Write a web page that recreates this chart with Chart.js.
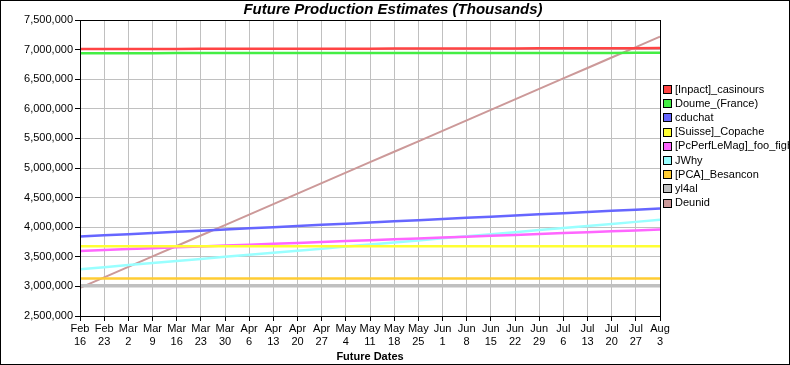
<!DOCTYPE html>
<html>
<head>
<meta charset="utf-8">
<script src="https://cdn.jsdelivr.net/npm/chart.js@4/dist/chart.umd.min.js"></script>
<style>
html,body{margin:0;padding:0;background:#fff;}
canvas{display:block;}
</style>
</head>
<body>
<canvas id="c" width="790" height="365"></canvas>
<script>
const titleText = "Future Production Estimates (Thousands)";
const xTitle = "Future Dates";
const categories = [
  ["Feb","16"],["Feb","23"],["Mar","2"],["Mar","9"],["Mar","16"],["Mar","23"],["Mar","30"],
  ["Apr","6"],["Apr","13"],["Apr","20"],["Apr","27"],["May","4"],["May","11"],["May","18"],
  ["May","25"],["Jun","1"],["Jun","8"],["Jun","15"],["Jun","22"],["Jun","29"],["Jul","6"],
  ["Jul","13"],["Jul","20"],["Jul","27"],["Aug","3"]
];
const seriesNames = ["[Inpact]_casinours","Doume_(France)","cduchat","[Suisse]_Copache","[PcPerfLeMag]_foo_fighters","JWhy","[PCA]_Besancon","yl4al","Deunid"];
const inpact = [7010000,7011000,7011000,7012000,7012000,7013000,7013000,7014000,7014000,7015000,7015000,7016000,7016000,7017000,7018000,7018000,7019000,7020000,7020000,7021000,7022000,7022000,7023000,7024000,7025000];
const doume = [6940000,6940000,6940000,6940000,6941000,6941000,6941000,6941000,6941000,6942000,6942000,6942000,6942000,6942000,6943000,6943000,6943000,6943000,6943000,6944000,6944000,6944000,6944000,6945000,6945000];
const cduchat = [3843000,3863000,3882000,3902000,3922000,3941000,3961000,3981000,4001000,4020000,4040000,4060000,4080000,4099000,4119000,4139000,4158000,4178000,4198000,4217000,4237000,4257000,4276000,4296000,4316000];
const copache = [3680000,3680000,3680000,3680000,3680000,3680000,3680000,3680000,3680000,3680000,3680000,3680000,3680000,3680000,3680000,3680000,3680000,3680000,3680000,3680000,3680000,3680000,3680000,3680000,3680000];
const pcperf = [3600000,3615000,3630000,3645000,3660000,3675000,3690000,3705000,3720000,3735000,3750000,3765000,3780000,3795000,3810000,3825000,3840000,3855000,3870000,3885000,3900000,3915000,3930000,3945000,3960000];
const jwhy = [3290000,3325000,3360000,3394000,3429000,3464000,3499000,3534000,3568000,3603000,3638000,3673000,3708000,3742000,3777000,3812000,3847000,3881000,3916000,3951000,3986000,4021000,4055000,4090000,4125000];
const besancon = [3135000,3135000,3135000,3135000,3135000,3135000,3135000,3135000,3135000,3135000,3135000,3135000,3135000,3135000,3135000,3135000,3135000,3135000,3135000,3135000,3135000,3135000,3135000,3135000,3135000];
const yl4al = [3012000,3012000,3012000,3012000,3012000,3012000,3012000,3012000,3012000,3012000,3012000,3012000,3012000,3012000,3012000,3012000,3012000,3012000,3012000,3012000,3012000,3012000,3012000,3012000,3012000];
const deunid = [2975000,3152000,3329000,3506000,3683000,3860000,4036000,4213000,4390000,4567000,4744000,4921000,5098000,5274000,5451000,5628000,5805000,5982000,6159000,6336000,6513000,6689000,6866000,7043000,7220000];
const yMin = 2500000, yMax = 7500000, yStep = 500000;

const seriesData = [inpact,doume,cduchat,copache,pcperf,jwhy,besancon,yl4al,deunid];
const colors = ["#ff4444","#44ee44","#6666ff","#ffff33","#ff66ff","#99ffff","#ffcc33","#c0c0c0","#cc9999"];
const widths = [2.5,2.5,2.5,2.5,2.5,2.5,2.5,3.5,2];

const FONT = "'Liberation Sans', Arial, sans-serif";

const extras = {
  id: 'extras',
  beforeDraw(chart) {
    const ctx = chart.ctx;
    ctx.save();
    ctx.fillStyle = '#fff';
    ctx.fillRect(0,0,chart.width,chart.height);
    ctx.restore();
  },
  afterDraw(chart) {
    const ctx = chart.ctx;
    const a = chart.chartArea;
    ctx.save();
    ctx.strokeStyle = '#000';
    ctx.lineWidth = 1;
    ctx.strokeRect(Math.round(a.left)+0.5, Math.round(a.top)+0.5, Math.round(a.right-a.left), Math.round(a.bottom-a.top));
    ctx.fillStyle = '#000';
    ctx.textAlign = 'center';
    ctx.textBaseline = 'middle';
    ctx.font = "italic bold 15px " + FONT;
    ctx.fillText(titleText, chart.width/2 - 2, 10);
    ctx.font = "bold 11px " + FONT;
    ctx.fillText(xTitle, (a.left + a.right)/2, 357);
    ctx.font = "11px " + FONT;
    ctx.textAlign = 'left';
    for (let i = 0; i < seriesNames.length; i++) {
      const yc = 89 + i*14.2;
      ctx.fillStyle = colors[i];
      ctx.fillRect(663, Math.round(yc-4), 8, 8);
      ctx.strokeStyle = '#000';
      ctx.strokeRect(663.5, Math.round(yc-4)+0.5, 8, 8);
      ctx.fillStyle = '#000';
      ctx.fillText(seriesNames[i], 675, yc+0.5);
    }
    ctx.strokeStyle = '#000';
    ctx.strokeRect(0.5,0.5,chart.width-1,chart.height-1);
    ctx.restore();
  }
};

new Chart(document.getElementById('c'), {
  type: 'line',
  data: {
    labels: categories,
    datasets: seriesNames.map((n,i)=>({
      label: n,
      data: seriesData[i],
      borderColor: colors[i],
      backgroundColor: colors[i],
      borderWidth: widths[i],
      pointRadius: 0,
      tension: 0,
      fill: false
    }))
  },
  options: {
    responsive: false,
    animation: false,
    devicePixelRatio: 1,
    layout: { padding: { top: 20, right: 130, left: 0, bottom: 0 } },
    plugins: { legend: { display: false }, title: { display: false }, tooltip: { enabled: false } },
    scales: {
      x: {
        offset: false,
        grid: { color: '#c0c0c0', tickColor: '#000', tickLength: 5, drawTicks: true },
        border: { display: true, color: '#000' },
        ticks: { color: '#000', font: { family: FONT, size: 11 }, maxRotation: 0, autoSkip: false, padding: 1 },
        afterFit(s) { s.height = 49; }
      },
      y: {
        min: yMin, max: yMax,
        grid: { color: '#c0c0c0', tickColor: '#000', tickLength: 5 },
        border: { display: true, color: '#000' },
        ticks: { stepSize: yStep, color: '#000', font: { family: FONT, size: 11 }, padding: 2,
          callback: v => Number(v).toLocaleString('en-US') },
        afterFit(s) { s.width = 80; }
      }
    }
  },
  plugins: [extras]
});
</script>
</body>
</html>
